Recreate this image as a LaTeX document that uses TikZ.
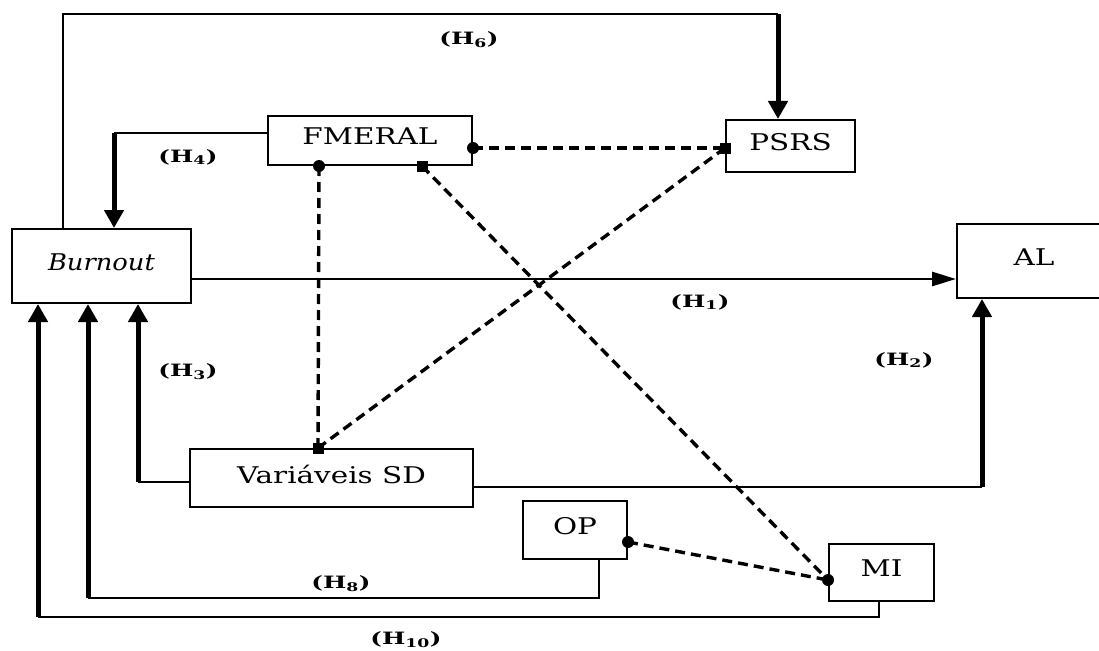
\documentclass[tikz,border=0pt]{standalone}
\usepackage{fontspec}
\setmainfont{DejaVu Serif}
\newfontfamily\boxfont[FakeStretch=1.28]{DejaVu Serif}
\newfontfamily\itfont[FakeStretch=1.12]{DejaVu Serif Italic}
\newfontfamily\labfont[FakeStretch=1.45]{DejaVu Serif Bold}
\usetikzlibrary{arrows.meta}
\begin{document}
\begin{tikzpicture}[x=1pt,y=-1pt,
  box/.style={draw,line width=2pt,inner sep=0pt,anchor=north west,text depth=8pt,
    font=\boxfont\fontsize{23}{27}\selectfont},
  thinl/.style={line width=2pt},
  thickarr/.style={line width=5pt,-{Triangle[length=18pt,width=19pt]}},
  medarr/.style={line width=2.8pt,-{Triangle[length=24pt,width=14pt]}},
  dashl/.style={line width=3.4pt,dash pattern=on 10pt off 6pt},
  dot/.style={circle,fill,inner sep=0pt,minimum size=12pt},
  sq/.style={rectangle,fill,inner sep=0pt,minimum size=11pt},
  lab/.style={font=\labfont\fontsize{17}{20}\selectfont}]
\clip (0,0) rectangle (1099,650);
\fill[white] (0,0) rectangle (1099,650);

% boxes
\node[box,minimum width=204pt,minimum height=49pt] (FM) at (267,115) {FMERAL};
\node[box,minimum width=129pt,minimum height=52pt] (PS) at (725,119) {PSRS};
\node[box,minimum width=179pt,minimum height=74pt] (B) at (11,228) {\itfont Burnout};
\node[box,minimum width=154pt,minimum height=74pt] (AL) at (956,223) {AL};
\node[box,minimum width=283pt,minimum height=58pt] (VSD) at (189,448) {Variáveis SD};
\node[box,minimum width=104pt,minimum height=58pt] (OP) at (522,500) {OP};
\node[box,minimum width=105pt,minimum height=57pt] (MI) at (828,543) {MI};

% H6
\coordinate (h6c) at (778,14);
\draw[thinl] ([xshift=52pt]B.north west) |- (h6c);
\draw[thickarr] (h6c) -- (h6c |- PS.north);
% H4
\coordinate (h4c) at (114,133);
\draw[thinl] (h4c -| FM.west) -- (h4c);
\draw[thickarr] (h4c) -- (h4c |- B.north);
% H1
\coordinate (h1y) at (0,279);
\draw[medarr] (B.east |- h1y) -- (AL.west |- h1y);
% H2
\coordinate (h2c) at (982,487);
\draw[thinl] (h2c -| VSD.east) -- (h2c);
\draw[thickarr] (h2c) -- (h2c |- AL.south);
% H3
\coordinate (h3c) at (138,482);
\draw[thinl] (h3c -| VSD.west) -- (h3c);
\draw[thickarr] (h3c) -- (h3c |- B.south);
% H8
\coordinate (h8a) at (599,598);
\coordinate (h8b) at (88,598);
\draw[thinl] (h8a |- OP.south) -- (h8a) -- (h8b);
\draw[thickarr] (h8b) -- (h8b |- B.south);
% H10
\coordinate (h10a) at (879,617);
\coordinate (h10b) at (38,617);
\draw[thinl] (h10a |- MI.south) -- (h10a) -- (h10b);
\draw[thickarr] (h10b) -- (h10b |- B.south);

% dashed correlations
\coordinate (fmR) at (FM.east |- 0,148);
\coordinate (psL) at (PS.west |- 0,148);
\coordinate (fmB1) at (FM.south -| 319,0);
\coordinate (fmB2) at (FM.south -| 422,0);
\coordinate (vsT) at (VSD.north -| 318,0);
\coordinate (opR) at (OP.east |- 0,542);
\coordinate (miL) at (MI.west |- 0,580);
\draw[dashl] (fmR) -- (psL);
\draw[dashl] (fmB1) -- (vsT);
\draw[dashl] (psL) -- (vsT);
\draw[dashl] (fmB2) -- (miL);
\draw[dashl] (opR) -- (miL);
\node[dot] at (fmR) {};
\node[sq] at (psL) {};
\node[dot] at (fmB1) {};
\node[sq] at (fmB2) {};
\node[sq] at (vsT) {};
\node[dot] at (opR) {};
\node[dot] at (miL) {};

% labels
\node[lab] (l6) at (469,40) {(H\textsubscript{6})};
\node[lab] (l4) at (188,157) {(H\textsubscript{4})};
\node[lab] (l1) at (700,302) {(H\textsubscript{1})};
\node[lab] (l2) at (904,360) {(H\textsubscript{2})};
\node[lab] (l3) at (188,372) {(H\textsubscript{3})};
\node[lab] (l8) at (341,584) {(H\textsubscript{8})};
\node[lab] (l10) at (406,640) {(H\textsubscript{10})};
\end{tikzpicture}
\end{document}
